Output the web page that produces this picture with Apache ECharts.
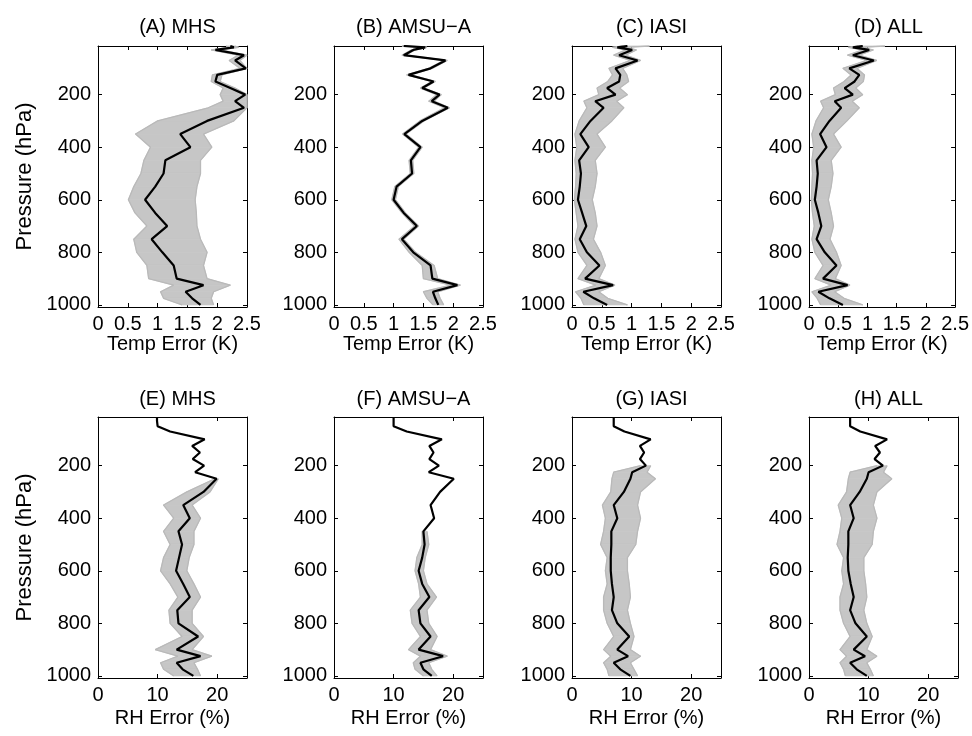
<!DOCTYPE html>
<html><head><meta charset="utf-8">
<script src="https://cdn.jsdelivr.net/npm/echarts@6/dist/echarts.min.js"></script>
<style>html,body{margin:0;padding:0;background:#fff}#c{width:972px;height:736px}</style>
</head><body><div id="c"></div>
<script>
// ---------------- data ----------------
const levels = [15,20,30,50,70,100,125,150,175,200,225,250,300,350,400,450,500,550,600,650,700,750,800,850,900,925,950,975,1000];
const pressureTicks = [200,400,600,800,1000];
const tempTicks = [0,0.5,1,1.5,2,2.5];
const rhTicks = [0,10,20];
const titles = ['(A) MHS','(B) AMSU\u2212A','(C) IASI','(D) ALL','(E) MHS','(F) AMSU\u2212A','(G) IASI','(H) ALL'];

// Temperature error (K): mean (black) and envelope of the gray member lines
const mhsTempMean = [2.22,2.28,1.97,2.45,2.30,2.48,2.00,1.97,2.22,2.47,2.30,2.45,1.83,1.38,1.55,1.13,1.10,0.96,0.79,0.96,1.16,0.90,1.08,1.27,1.32,1.77,1.47,1.58,1.72];
const mhsTempLo   = [2.15,2.20,1.90,2.35,2.20,2.38,1.92,1.90,2.10,2.05,2.10,1.85,1.00,0.63,0.88,0.77,0.72,0.60,0.51,0.62,0.82,0.60,0.65,0.82,0.85,1.27,1.05,1.10,1.41];
const mhsTempHi   = [2.30,2.36,2.05,2.50,2.38,2.50,2.08,2.05,2.30,2.50,2.50,2.50,2.28,1.77,1.91,1.72,1.72,1.66,1.63,1.65,1.66,1.72,1.83,1.77,1.83,2.22,1.94,1.90,1.94];

const amsuTempMean = [1.17,1.53,1.33,1.17,1.87,1.62,1.25,1.67,1.48,1.77,1.64,1.91,1.48,1.18,1.45,1.29,1.31,1.05,1.00,1.17,1.39,1.14,1.33,1.62,1.65,2.07,1.66,1.70,1.75];
const amsuTempLo   = [1.14,1.50,1.30,1.14,1.84,1.59,1.22,1.64,1.45,1.72,1.59,1.85,1.44,1.15,1.42,1.26,1.28,1.02,0.97,1.14,1.35,1.09,1.26,1.48,1.50,1.96,1.50,1.56,1.66];
const amsuTempHi   = [1.20,1.56,1.36,1.20,1.90,1.65,1.28,1.70,1.51,1.80,1.68,1.94,1.51,1.21,1.48,1.32,1.34,1.08,1.03,1.20,1.42,1.17,1.37,1.68,1.74,2.12,1.74,1.78,1.84];

const iasiTempMean = [0.93,0.76,1.01,0.79,1.10,0.73,0.81,0.79,0.59,0.73,0.39,0.53,0.31,0.14,0.28,0.12,0.15,0.13,0.10,0.17,0.24,0.13,0.25,0.46,0.22,0.69,0.19,0.37,0.59];
const iasiTempLo   = [0.85,0.68,0.90,0.70,0.98,0.62,0.68,0.60,0.42,0.45,0.20,0.25,0.12,0.05,0.08,0.05,0.07,0.06,0.04,0.07,0.10,0.05,0.10,0.25,0.10,0.40,0.06,0.15,0.20];
const iasiTempHi   = [1.30,0.90,1.08,0.90,1.15,0.85,0.92,0.95,0.80,0.93,0.75,0.87,0.67,0.42,0.56,0.39,0.42,0.39,0.34,0.39,0.42,0.36,0.48,0.56,0.45,0.72,0.45,0.60,0.93];

const allTempMean = [0.92,0.75,1.03,0.75,1.11,0.69,0.86,0.78,0.61,0.75,0.44,0.55,0.35,0.19,0.30,0.13,0.15,0.13,0.10,0.16,0.21,0.13,0.27,0.47,0.24,0.66,0.16,0.35,0.58];
const allTempLo   = [0.84,0.67,0.92,0.66,0.99,0.58,0.72,0.60,0.42,0.45,0.20,0.25,0.12,0.05,0.08,0.05,0.06,0.05,0.04,0.06,0.09,0.05,0.10,0.24,0.10,0.38,0.05,0.14,0.20];
const allTempHi   = [1.30,0.88,1.10,0.86,1.16,0.82,0.95,0.93,0.80,0.92,0.74,0.86,0.65,0.42,0.55,0.38,0.41,0.38,0.33,0.38,0.42,0.36,0.47,0.55,0.45,0.70,0.44,0.60,0.92];

// Relative humidity error (%)
const mhsRhMean = [9.9,9.9,9.9,10.0,12.1,17.9,15.8,17.1,15.9,17.8,16.3,19.9,17.7,14.3,15.4,13.5,14.1,13.6,13.1,14.3,15.4,13.3,13.5,16.8,13.2,17.2,13.2,14.2,16.0];
const mhsRhLo   = [null,null,null,null,null,null,null,null,null,null,null,19.6,14.9,11.0,12.7,11.0,12.1,11.0,10.5,12.1,13.4,11.9,12.1,14.1,9.6,13.4,10.5,11.0,12.7];
const mhsRhHi   = [null,null,null,null,null,null,null,null,null,null,null,20.2,18.8,15.8,17.2,16.1,16.1,15.3,14.9,16.1,17.2,15.8,15.8,17.7,15.8,19.1,16.1,16.7,17.2];

const amsuRhMean = [10.0,10.0,10.0,10.0,12.2,18.1,16.0,16.7,16.0,17.6,15.9,20.1,17.8,16.2,16.8,15.0,15.2,14.8,14.2,14.8,16.0,14.2,14.5,16.2,14.2,18.3,14.5,15.0,16.4];
const amsuRhLo   = [null,null,null,null,null,null,null,null,null,null,null,null,null,null,null,14.8,14.8,13.9,13.6,14.2,14.5,12.8,13.1,14.5,12.5,14.5,13.3,13.6,15.0];
const amsuRhHi   = [null,null,null,null,null,null,null,null,null,null,null,null,null,null,null,15.6,15.9,15.3,15.0,15.6,17.2,15.6,15.9,17.3,16.2,19.0,15.9,16.4,17.3];

const iasiRhMean = [7.0,7.0,7.0,7.0,8.8,13.2,11.4,12.1,11.4,12.4,10.1,9.8,8.7,7.0,7.6,6.6,6.6,6.5,6.5,6.7,7.0,6.7,7.6,9.6,7.6,9.4,7.0,8.1,9.8];
const iasiRhLo   = [null,null,null,null,null,null,null,null,null,11.5,7.0,6.7,6.5,5.1,5.6,5.3,4.8,5.9,5.6,5.9,5.3,5.3,5.9,7.0,5.3,6.5,5.3,5.9,6.2];
const iasiRhHi   = [null,null,null,null,null,null,null,null,null,13.2,12.6,14.0,11.5,11.0,11.5,11.0,10.7,9.3,9.3,9.6,9.8,9.3,9.8,10.4,9.8,11.5,9.8,10.4,11.0];

const allRhMean = [6.9,6.9,6.9,6.9,8.6,13.1,11.1,11.9,11.0,12.4,10.0,9.7,8.5,6.9,7.5,6.6,6.6,6.5,6.6,7.0,7.5,6.9,7.8,9.7,7.5,9.4,6.9,8.0,9.7];
const allRhLo   = [null,null,null,null,null,null,null,null,null,11.4,6.9,6.6,6.3,4.9,5.5,5.2,4.7,5.8,5.5,5.8,5.2,5.2,5.8,6.9,5.2,6.3,5.2,5.8,6.1];
const allRhHi   = [null,null,null,null,null,null,null,null,null,13.1,12.5,13.9,11.4,10.8,11.4,10.8,10.6,9.2,9.2,9.5,9.7,9.2,9.7,10.6,9.7,11.4,9.7,10.3,10.8];

// ---------------- layout / style ----------------
const panels = [
  {mean: mhsTempMean, lo: mhsTempLo, hi: mhsTempHi},
  {mean: amsuTempMean, lo: amsuTempLo, hi: amsuTempHi},
  {mean: iasiTempMean, lo: iasiTempLo, hi: iasiTempHi},
  {mean: allTempMean, lo: allTempLo, hi: allTempHi},
  {mean: mhsRhMean, lo: mhsRhLo, hi: mhsRhHi},
  {mean: amsuRhMean, lo: amsuRhLo, hi: amsuRhHi},
  {mean: iasiRhMean, lo: iasiRhLo, hi: iasiRhHi},
  {mean: allRhMean, lo: allRhLo, hi: allRhHi}
];
const FONT = "'Liberation Sans', Arial, Helvetica, sans-serif";
const LEFTS = [98, 334, 572, 809], TOPS = [46, 417], W = 149, H = 261;
const BAND = '#c6c6c6', GRAY = '#b9b9b9';
const P_MIN = 15, P_MAX = 1008;

const grids = [], xAxes = [], yAxes = [], series = [], titleArr = [];

function tick() { return {show: true, inside: true, length: 4, lineStyle: {color: '#000', width: 1}}; }
function line() { return {show: true, onZero: false, lineStyle: {color: '#000', width: 1}}; }
function fmt(v) { return String(v); }

panels.forEach((pn, i) => {
  const row = i < 4 ? 0 : 1, col = i % 4;
  const left = LEFTS[col], top = TOPS[row];
  const isT = row === 0;
  const xMax = isT ? 2.5 : 25;
  const xt = isT ? tempTicks : rhTicks;
  grids.push({left: left, top: top, width: W, height: H, containLabel: false, show: false});
  titleArr.push({text: titles[i], left: left + W / 2, top: isT ? 12 : 384, textAlign: 'center',
    textStyle: {fontSize: 20, fontWeight: 'normal', color: '#000', fontFamily: FONT}});

  const xb = {type: 'value', gridIndex: i, position: 'bottom', min: 0, max: xMax,
    splitLine: {show: false}, axisLine: line(),
    axisTick: Object.assign(tick(), {customValues: xt}),
    axisLabel: {show: true, customValues: xt, margin: 7, color: '#000', fontSize: 20, fontFamily: FONT, formatter: fmt},
    name: isT ? 'Temp Error (K)' : 'RH Error (%)', nameLocation: 'middle', nameGap: isT ? 25 : 30,
    nameTextStyle: {fontSize: 20, color: '#000', fontFamily: FONT}};
  const xtop = {type: 'value', gridIndex: i, position: 'top', min: 0, max: xMax,
    splitLine: {show: false}, axisLine: line(),
    axisTick: Object.assign(tick(), {customValues: xt}), axisLabel: {show: false}};
  xAxes.push(xb, xtop);

  const yl = {type: 'value', gridIndex: i, position: 'left', inverse: true, min: P_MIN, max: P_MAX,
    splitLine: {show: false}, axisLine: line(),
    axisTick: Object.assign(tick(), {customValues: pressureTicks}),
    axisLabel: {show: true, customValues: pressureTicks, margin: 7, color: '#000', fontSize: 20, fontFamily: FONT, formatter: fmt}};
  if (col === 0) {
    yl.name = 'Pressure (hPa)'; yl.nameLocation = 'middle'; yl.nameGap = 62; yl.nameRotate = 90;
    yl.nameTextStyle = {fontSize: 22, color: '#000', fontFamily: FONT};
  }
  const yr = {type: 'value', gridIndex: i, position: 'right', inverse: true, min: P_MIN, max: P_MAX,
    splitLine: {show: false}, axisLine: line(),
    axisTick: Object.assign(tick(), {customValues: pressureTicks}), axisLabel: {show: false}};
  yAxes.push(yl, yr);

  // gray envelope band (quads between consecutive levels)
  const segs = [];
  for (let k = 0; k < levels.length - 1; k++) {
    if (pn.lo[k] != null && pn.lo[k + 1] != null) {
      segs.push([pn.lo[k], levels[k], pn.hi[k], pn.lo[k + 1], levels[k + 1], pn.hi[k + 1]]);
    }
  }
  series.push({type: 'custom', xAxisIndex: 2 * i, yAxisIndex: 2 * i, silent: true, z: 1,
    data: segs,
    renderItem: function (params, api) {
      const a = api.coord([api.value(0), api.value(1)]);
      const b = api.coord([api.value(3), api.value(4)]);
      const c = api.coord([api.value(5), api.value(4)]);
      const d = api.coord([api.value(2), api.value(1)]);
      return {type: 'polygon', shape: {points: [a, b, c, d]}, style: {fill: BAND, stroke: BAND, lineWidth: 0.8}};
    }});
  const loPts = [], hiPts = [];
  levels.forEach((p, k) => {
    if (pn.lo[k] != null) { loPts.push([pn.lo[k], p]); hiPts.push([pn.hi[k], p]); }
  });
  [loPts, hiPts].forEach(pts => series.push({type: 'line', xAxisIndex: 2 * i, yAxisIndex: 2 * i, z: 2,
    data: pts, showSymbol: false, symbol: 'none', silent: true,
    lineStyle: {color: GRAY, width: 1.3}}));
  series.push({type: 'line', xAxisIndex: 2 * i, yAxisIndex: 2 * i, z: 3,
    data: levels.map((p, k) => [pn.mean[k], p]), showSymbol: false, symbol: 'none', silent: true,
    lineStyle: {color: '#000', width: 2.2}});
});

const chart = echarts.init(document.getElementById('c'), null, {renderer: 'canvas'});
chart.setOption({
  backgroundColor: '#fff', animation: false,
  title: titleArr, grid: grids, xAxis: xAxes, yAxis: yAxes, series: series
});
</script></body></html>
